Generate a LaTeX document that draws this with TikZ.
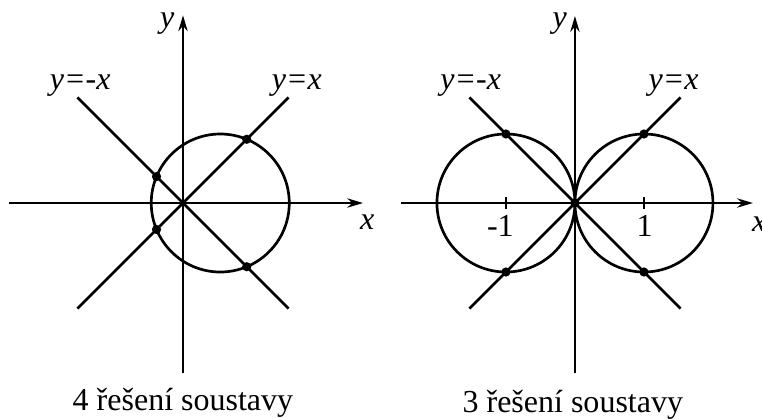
\documentclass[tikz,border=0pt]{standalone}
\usepackage{fontspec}
\setmainfont{Liberation Serif}
\usetikzlibrary{arrows.meta}
\tikzset{
  axis/.style={line width=1.1pt, -{Stealth[length=6.5pt,width=3.8pt]}},
  curve/.style={line width=1.1pt},
  sol/.style={circle, fill=black, inner sep=0pt, minimum size=3.8pt},
  lab/.style={font=\fontsize{13.2}{15}\selectfont, inner sep=0pt, anchor=base},
}

\begin{document}
\begin{tikzpicture}[x=1cm,y=1cm]
  \useasboundingbox (-2.652,-3.130) rectangle (8.391,2.942);

  % 4 solutions: circle shifted to the right
  \begin{scope}
    \coordinate (O1) at (0,0);
    \draw[axis] (-2.52,0) -- (2.61,0);
    \draw[axis] (0,-2.46) -- (0,2.72);
    \draw[curve] (-1.53,-1.53) coordinate (La) -- (1.53,1.53) coordinate (Lb);
    \draw[curve] (-1.53,1.53) coordinate (Ma) -- (1.53,-1.53) coordinate (Mb);
    \draw[curve] (0.54,0) circle (1);
    \node[sol] (P1) at (0.9235,0.9235) {};
    \node[sol] (P2) at (-0.3835,-0.3835) {};
    \node[sol] (P3) at (-0.3835,0.3835) {};
    \node[sol] (P4) at (0.9235,-0.9235) {};
    \node[lab] (ylab1) at (-0.23,2.55) {\textit{y}};
    \node[lab] (xlab1) at (2.67,-0.39) {\textit{x}};
    \node[lab] (neg1) at (-1.49,1.65) {\textit{y=-x}};
    \node[lab] (pos1) at (1.65,1.65) {\textit{y=x}};
    \node[lab] (cap1) at (0,-3.01) {4 řešení soustavy};
  \end{scope}

  % 3 solutions: two circles touching at the origin
  \begin{scope}[shift={(5.68,0)}]
    \coordinate (O2) at (0,0);
    \draw[axis] (-2.52,0) -- (2.58,0);
    \draw[axis] (0,-2.46) -- (0,2.71);
    \draw[curve] (-1.53,-1.53) -- (1.53,1.53);
    \draw[curve] (-1.53,1.53) -- (1.53,-1.53);
    \draw[curve] (-1,0) circle (1);
    \draw[curve] (1,0) circle (1);
    \draw[curve] (-1,-0.08) -- (-1,0.08);
    \draw[curve] (1,-0.08) -- (1,0.08);
    \node[sol] (Q1) at (-1,1) {};
    \node[sol] (Q2) at (1,1) {};
    \node[sol] (Q3) at (-1,-1) {};
    \node[sol] (Q4) at (1,-1) {};
    \node[sol] (Q0) at (0,0) {};
    \node[lab] (tm1) at (-1.08,-0.48) {-1};
    \node[lab] (tp1) at (1.01,-0.48) {1};
    \node[lab] (ylab2) at (-0.22,2.55) {\textit{y}};
    \node[lab] (xlab2) at (2.67,-0.41) {\textit{x}};
    \node[lab] (neg2) at (-1.51,1.64) {\textit{y=-x}};
    \node[lab] (pos2) at (1.43,1.64) {\textit{y=x}};
    \node[lab] (cap2) at (-0.03,-3.03) {3 řešení soustavy};
  \end{scope}
\end{tikzpicture}
\end{document}
